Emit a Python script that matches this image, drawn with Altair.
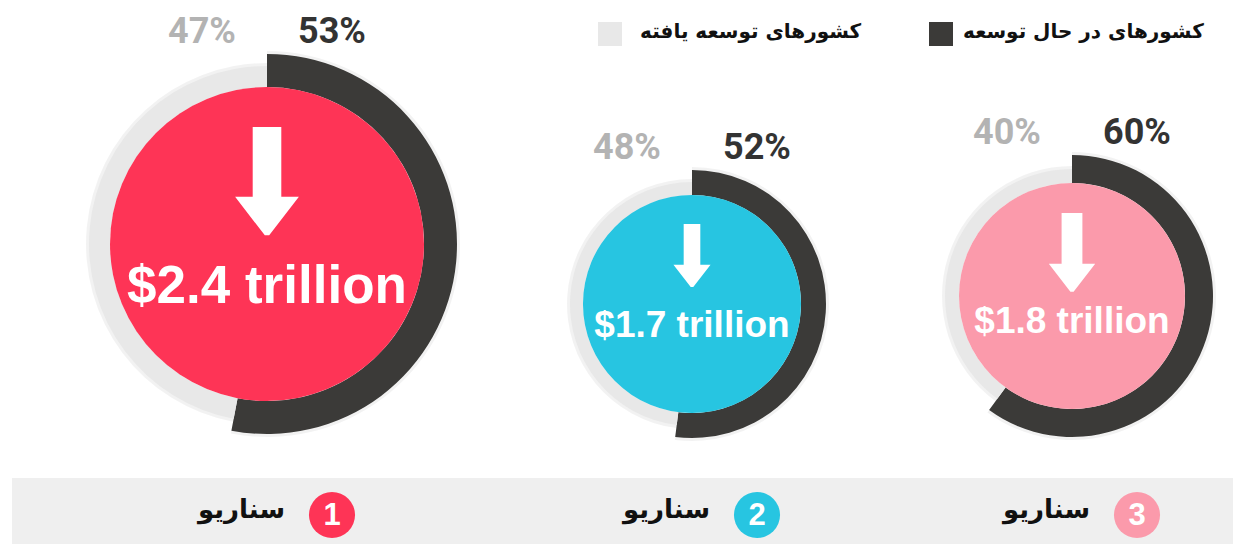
import math
import altair as alt
import pandas as pd

# ---------------- data ----------------
scenarios = ["1", "2", "3"]
developing_pct = [53, 52, 60]      # کشورهای در حال توسعه
developed_pct = [47, 48, 40]       # کشورهای توسعه یافته
savings_trillion = [2.4, 1.7, 1.8]
scenario_word = "سناریو"
legend_labels = ["کشورهای در حال توسعه", "کشورهای توسعه یافته"]

# ---------------- layout (page pixels) ----------------
center_x = [267, 692, 1072]
center_y = [244, 304, 296]
inner_r = [157, 109, 113]
dark_r = [190, 134, 141]
light_r = [178, 122, 127]
arrow_len = [110, 64, 80]
arrow_dy = [-62, -48, -43]
text_dy = [59, 33, 37]
amount_font = [53, 37, 37]
fill_colors = ["#fe3456", "#27c5e1", "#fb9aab"]
DARK = "#3b3a38"
LIGHT = "#e8e8e8"

W, H = 1225, 536
xs = alt.Scale(domain=[8, 8 + W], nice=False, zero=False)
ys = alt.Scale(domain=[8, 8 + H], nice=False, zero=False, reverse=True)
cscale = alt.Scale(domain=scenarios, range=fill_colors)
segscale = alt.Scale(domain=["dark", "light"], range=[DARK, LIGHT])

base = pd.DataFrame({
    "scenario": scenarios,
    "dev": developing_pct,
    "devd": developed_pct,
    "amount": savings_trillion,
    "cx": center_x,
    "cy": center_y,
    "ri": inner_r,
    "rd": dark_r,
    "rl": light_r,
    "alen": arrow_len,
    "ady": arrow_dy,
    "tdy": text_dy,
    "afs": amount_font,
})
base["amount_label"] = base["amount"].map(lambda v: f"${v} trillion")
base["label_y"] = base["cy"] - base["rd"] - 22
base["dev_label"] = base["dev"].map(lambda v: f"{v}%")
base["devd_label"] = base["devd"].map(lambda v: f"{v}%")
base["dev_x"] = base["cx"] + 65
base["devd_x"] = base["cx"] - 65
base["arrow_y"] = base["cy"] + base["ady"]
base["arrow_size"] = base["alen"] ** 2
base["text_y"] = base["cy"] + base["tdy"]
base["word"] = scenario_word
base["word_x"] = base["dev_x"] - 47

rows = []
for i, s in enumerate(scenarios):
    rows.append(dict(scenario=s, seg="dark", start=0, end=developing_pct[i],
                     cx=center_x[i], cy=center_y[i], rin=inner_r[i], rout=dark_r[i]))
    rows.append(dict(scenario=s, seg="light", start=developing_pct[i], end=100,
                     cx=center_x[i], cy=center_y[i], rin=inner_r[i], rout=light_r[i]))
rings = pd.DataFrame(rows)


def X(f):
    return alt.X(f, scale=xs, axis=None)


def Y(f):
    return alt.Y(f, scale=ys, axis=None)


theta_scale = alt.Scale(domain=[0, 100], range=[0, 2 * math.pi])

shadow = alt.Chart(rings).transform_calculate(rsh="datum.rout + 3").mark_arc(
    color="#000000", opacity=0.05).encode(
    x=X("cx:Q"), y=Y("cy:Q"),
    theta=alt.Theta("start:Q", scale=theta_scale, stack=None),
    theta2="end:Q",
    radius=alt.Radius("rsh:Q", scale=None, stack=None),
    radius2=alt.Radius2("rin:Q"),
)

ring = alt.Chart(rings).mark_arc().encode(
    x=X("cx:Q"), y=Y("cy:Q"),
    theta=alt.Theta("start:Q", scale=theta_scale, stack=None),
    theta2="end:Q",
    radius=alt.Radius("rout:Q", scale=None, stack=None),
    radius2=alt.Radius2("rin:Q"),
    fill=alt.Fill("seg:N", scale=segscale, legend=None),
)

disc = alt.Chart(base).mark_arc().encode(
    x=X("cx:Q"), y=Y("cy:Q"),
    theta=alt.value(0), theta2=alt.value(2 * math.pi),
    radius=alt.Radius("ri:Q", scale=None, stack=None),
    radius2=alt.value(0),
    color=alt.Color("scenario:N", scale=cscale, legend=None),
)

arrow_path = "M -0.26 -1 L 0.26 -1 L 0.26 0.27 L 0.58 0.27 L 0.04 0.97 L -0.04 0.97 L -0.58 0.27 L -0.26 0.27 Z"
arrow = alt.Chart(base).mark_point(shape=arrow_path, filled=True, opacity=1, strokeWidth=0,
                                   fill="white").encode(
    x=X("cx:Q"), y=Y("arrow_y:Q"),
    size=alt.Size("arrow_size:Q", scale=None),
)

amount = alt.Chart(base).mark_text(font="Liberation Sans", fontWeight="bold", align="center",
                                   baseline="alphabetic", fill="white").encode(
    x=X("cx:Q"), y=Y("text_y:Q"), text="amount_label:N",
    size=alt.Size("afs:Q", scale=None),
)

pct_font = "Liberation Sans Narrow, Arial Narrow, Roboto, sans-serif"
dev_lbl = alt.Chart(base).mark_text(font=pct_font, fontWeight="bold", fontSize=36,
                                    align="center", baseline="middle", fill="#333333").encode(
    x=X("dev_x:Q"), y=Y("label_y:Q"), text="dev_label:N")
devd_lbl = alt.Chart(base).mark_text(font=pct_font, fontWeight="bold", fontSize=36,
                                     align="center", baseline="middle", fill="#b3b3b3").encode(
    x=X("devd_x:Q"), y=Y("label_y:Q"), text="devd_label:N")

# bottom band
band = alt.Chart(base).mark_rect(fill="#efefef").encode(
    x=alt.X(datum=12, scale=xs, axis=None), x2=alt.X2(datum=8 + W),
    y=alt.Y(datum=478, scale=ys, axis=None), y2=alt.Y2(datum=8 + H),
)
badge = alt.Chart(base).mark_circle(opacity=1, size=math.pi * 26 ** 2).encode(
    x=X("dev_x:Q"), y=alt.Y(datum=515, scale=ys, axis=None),
    color=alt.Color("scenario:N", scale=cscale, legend=None),
)
badge_num = alt.Chart(base).mark_text(font="Liberation Sans", fontWeight="bold", fontSize=31,
                                      fill="white", baseline="middle", align="center").encode(
    x=X("dev_x:Q"), y=alt.Y(datum=516, scale=ys, axis=None), text="scenario:N")
badge_word = alt.Chart(base).mark_text(font="DejaVu Sans", fontWeight="bold", fontSize=26,
                                       fill="#111111", baseline="middle", align="right").encode(
    x=X("word_x:Q"), y=alt.Y(datum=510, scale=ys, axis=None), text="word:N")

# legend
leg = pd.DataFrame({
    "label": legend_labels,
    "kind": ["dark", "light"],
    "sx": [941, 610],
    "tx": [963, 640],
})
leg_sq = alt.Chart(leg).mark_square(opacity=1, filled=True, size=24 * 24).encode(
    x=X("sx:Q"), y=alt.Y(datum=34, scale=ys, axis=None),
    fill=alt.Fill("kind:N", scale=segscale, legend=None),
)
leg_txt = alt.Chart(leg).mark_text(font="DejaVu Sans", fontWeight="bold", fontSize=20,
                                   fill="#111111", align="left", baseline="middle").encode(
    x=X("tx:Q"), y=alt.Y(datum=32, scale=ys, axis=None), text="label:N")

chart = alt.layer(
    band, shadow, ring, disc, arrow, amount, dev_lbl, devd_lbl,
    badge, badge_num, badge_word, leg_sq, leg_txt,
).properties(
    width=W, height=H, autosize=alt.AutoSizeParams(type="none"), padding=0,
    background="white",
).configure_view(strokeWidth=0)

chart.save("out.html", embed_options={"renderer": "svg", "actions": False})
